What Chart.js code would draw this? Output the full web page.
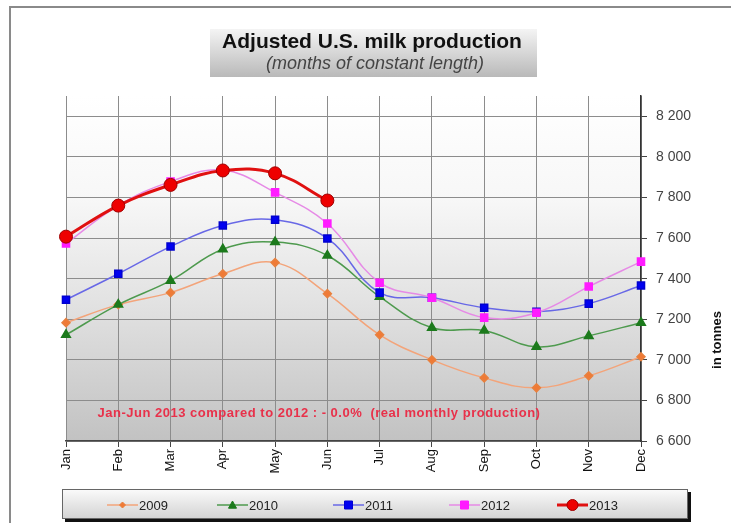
<!DOCTYPE html>
<html>
<head>
<meta charset="utf-8">
<script src="https://cdn.jsdelivr.net/npm/chart.js@4"></script>
<style>
  html, body { margin: 0; padding: 0; background: #fff; }
  #wrap { position: relative; width: 731px; height: 523px; }
  #frame { position: absolute; left: 9px; top: 6px; right: 0; bottom: 0; border-top: 2px solid #8a8a8a; border-left: 2px solid #8a8a8a; pointer-events: none; }
</style>
</head>
<body>
<div id="wrap">
  <canvas id="myChart" width="731" height="523"></canvas>
  <div id="frame"></div>
</div>
<script>
// months along the bottom
const months = ['Jan', 'Feb', 'Mar', 'Apr', 'May', 'Jun', 'Jul', 'Aug', 'Sep', 'Oct', 'Nov', 'Dec'];

// values (tonnes, thousands)
const milk2009 = [7183, 7272, 7331, 7424, 7479, 7326, 7123, 7000, 6911, 6862, 6921, 7015];
const milk2010 = [7123, 7272, 7390, 7545, 7580, 7514, 7311, 7158, 7145, 7064, 7118, 7183];
const milk2011 = [7296, 7424, 7558, 7662, 7690, 7598, 7331, 7306, 7257, 7237, 7277, 7366];
const milk2012 = [7573, 7760, 7878, 7935, 7825, 7672, 7380, 7306, 7208, 7232, 7361, 7484];
const milk2013 = [7607, 7760, 7862, 7933, 7919, 7785];

const yTicks = [6600, 6800, 7000, 7200, 7400, 7600, 7800, 8000, 8200];

const titleText = 'Adjusted U.S. milk production';
const subtitleText = '(months of constant length)';
const noteText = 'Jan-Jun 2013 compared to 2012 : - 0.0%  (real monthly production)';
const axisTitle = 'in tonnes';

// grey shading behind the lines
const plotBackground = {
    id: 'plotBackground',
    beforeDraw(chart) {
        const c = chart.ctx;
        const a = chart.chartArea;
        const g = c.createLinearGradient(0, a.top, 0, a.bottom);
        g.addColorStop(0, '#ffffff');
        g.addColorStop(0.3, '#f7f7f7');
        g.addColorStop(0.6, '#e2e2e2');
        g.addColorStop(1, '#c2c2c2');
        c.save();
        c.fillStyle = g;
        c.fillRect(a.left, a.top, a.right - a.left, a.bottom - a.top);
        c.restore();
    }
};

const drawMarker = (c, style, x, y, r, fill, stroke) => {
    c.fillStyle = fill;
    c.strokeStyle = stroke;
    c.lineWidth = 1;
    c.beginPath();
    if (style === 'circle') {
        c.arc(x, y, r, 0, Math.PI * 2);
    } else if (style === 'triangle') {
        c.moveTo(x, y - r);
        c.lineTo(x + r, y + r * 0.8);
        c.lineTo(x - r, y + r * 0.8);
        c.closePath();
    } else if (style === 'rectRot') {
        c.moveTo(x, y - r);
        c.lineTo(x + r, y);
        c.lineTo(x, y + r);
        c.lineTo(x - r, y);
        c.closePath();
    } else {
        c.rect(x - r, y - r, r * 2, r * 2);
    }
    c.fill();
    c.stroke();
};

// title box, note text, axis title and legend box
const extras = {
    id: 'extras',
    afterDraw(chart) {
        const c = chart.ctx;
        c.save();

        // title box
        const tg = c.createLinearGradient(0, 29, 0, 77);
        tg.addColorStop(0, '#f4f4f4');
        tg.addColorStop(1, '#b9b9b9');
        c.fillStyle = tg;
        c.fillRect(210, 29, 327, 48);
        c.fillStyle = '#111';
        c.textAlign = 'center';
        c.textBaseline = 'middle';
        c.font = 'bold 21px "Liberation Sans", Arial, sans-serif';
        c.fillText(titleText, 372, 42);
        c.fillStyle = '#444';
        c.font = 'italic 18px "Liberation Sans", Arial, sans-serif';
        c.fillText(subtitleText, 375, 64);

        // note inside the plot
        c.fillStyle = '#e8314a';
        c.font = 'bold 13px "Liberation Sans", Arial, sans-serif';
        c.letterSpacing = '0.5px';
        c.fillText(noteText, 319, 413);
        c.letterSpacing = '0px';

        // right axis title
        c.save();
        c.translate(717, 340);
        c.rotate(-Math.PI / 2);
        c.fillStyle = '#111';
        c.font = 'bold 13px "Liberation Sans", Arial, sans-serif';
        c.fillText(axisTitle, 0, 0);
        c.restore();

        // legend box
        c.fillStyle = '#111';
        c.fillRect(65, 492, 626, 30);
        const lg = c.createLinearGradient(0, 489, 0, 519);
        lg.addColorStop(0, '#fbfbfb');
        lg.addColorStop(1, '#d2d2d2');
        c.fillStyle = lg;
        c.fillRect(62, 489, 626, 30);
        c.strokeStyle = '#666';
        c.lineWidth = 1;
        c.strokeRect(62.5, 489.5, 625, 29);

        const lx = [107, 217, 333, 449, 557];
        chart.data.datasets.forEach((ds, i) => {
            const x0 = lx[i];
            const y0 = 505;
            c.strokeStyle = ds.borderColor;
            c.lineWidth = ds.borderWidth;
            c.beginPath();
            c.moveTo(x0, y0);
            c.lineTo(x0 + 31, y0);
            c.stroke();
            drawMarker(c, ds.pointStyle, x0 + 15.5, y0, ds.pointRadius - 1, ds.pointBackgroundColor, ds.pointBorderColor);
            c.fillStyle = '#222';
            c.textAlign = 'left';
            c.font = '13px "Liberation Sans", Arial, sans-serif';
            c.fillText(ds.label, x0 + 32, y0 + 1);
        });
        c.restore();
    }
};

const ctx = document.getElementById('myChart');
const myChart = new Chart(ctx, {
    type: 'line',
    data: {
        labels: months,
        datasets: [{
            label: '2009',
            data: milk2009,
            borderColor: '#f3a47a',
            borderWidth: 1.5,
            pointStyle: 'rectRot',
            pointRadius: 4,
            pointBackgroundColor: '#f07a36',
            pointBorderColor: '#e8803e',
            tension: 0.4,
            order: 5
        }, {
            label: '2010',
            data: milk2010,
            borderColor: '#4e9a4e',
            borderWidth: 1.5,
            pointStyle: 'triangle',
            pointRadius: 5,
            pointBackgroundColor: '#1c7a1c',
            pointBorderColor: '#1c7a1c',
            tension: 0.4,
            order: 4
        }, {
            label: '2011',
            data: milk2011,
            borderColor: '#6868e6',
            borderWidth: 1.5,
            pointStyle: 'rect',
            pointRadius: 5,
            pointBackgroundColor: '#0000f0',
            pointBorderColor: '#0000d0',
            tension: 0.4,
            order: 3
        }, {
            label: '2012',
            data: milk2012,
            borderColor: '#e68ae6',
            borderWidth: 1.5,
            pointStyle: 'rect',
            pointRadius: 5,
            pointBackgroundColor: '#ff1cff',
            pointBorderColor: '#ff1cff',
            tension: 0.4,
            order: 2
        }, {
            label: '2013',
            data: milk2013,
            borderColor: '#e01010',
            borderWidth: 3,
            pointStyle: 'circle',
            pointRadius: 6.5,
            pointBackgroundColor: '#ee0000',
            pointBorderColor: '#a00000',
            pointBorderWidth: 1,
            tension: 0.4,
            order: 1
        }]
    },
    options: {
        responsive: false,
        animation: false,
        layout: { padding: { left: 66, top: 96, right: 0, bottom: 0 } },
        plugins: {
            legend: { display: false },
            title: { display: false },
            tooltip: { enabled: false }
        },
        scales: {
            x: {
                offset: false,
                grid: { color: '#8c8c8c', lineWidth: 1, tickLength: 6, tickColor: '#444' },
                border: { color: '#444', width: 1.5 },
                ticks: {
                    minRotation: 90,
                    maxRotation: 90,
                    padding: 2,
                    color: '#111',
                    font: { size: 13, family: '"Liberation Sans", Arial, sans-serif' }
                },
                afterFit: (scale) => { scale.height = 82; }
            },
            y: {
                position: 'right',
                min: 6600,
                max: 8300,
                afterBuildTicks: (scale) => {
                    scale.ticks = yTicks.map(v => ({ value: v }));
                },
                grid: { color: '#8c8c8c', lineWidth: 1, tickLength: 6, tickColor: '#444' },
                border: { color: '#333', width: 1.5 },
                ticks: {
                    padding: 9,
                    color: '#444',
                    font: { size: 14, family: '"Liberation Sans", Arial, sans-serif' },
                    callback: (v) => String(v).replace(/\B(?=(\d{3})+(?!\d))/g, ' ')
                },
                afterFit: (scale) => { scale.width = 90; }
            }
        }
    },
    plugins: [plotBackground, extras]
});
</script>
</body>
</html>
